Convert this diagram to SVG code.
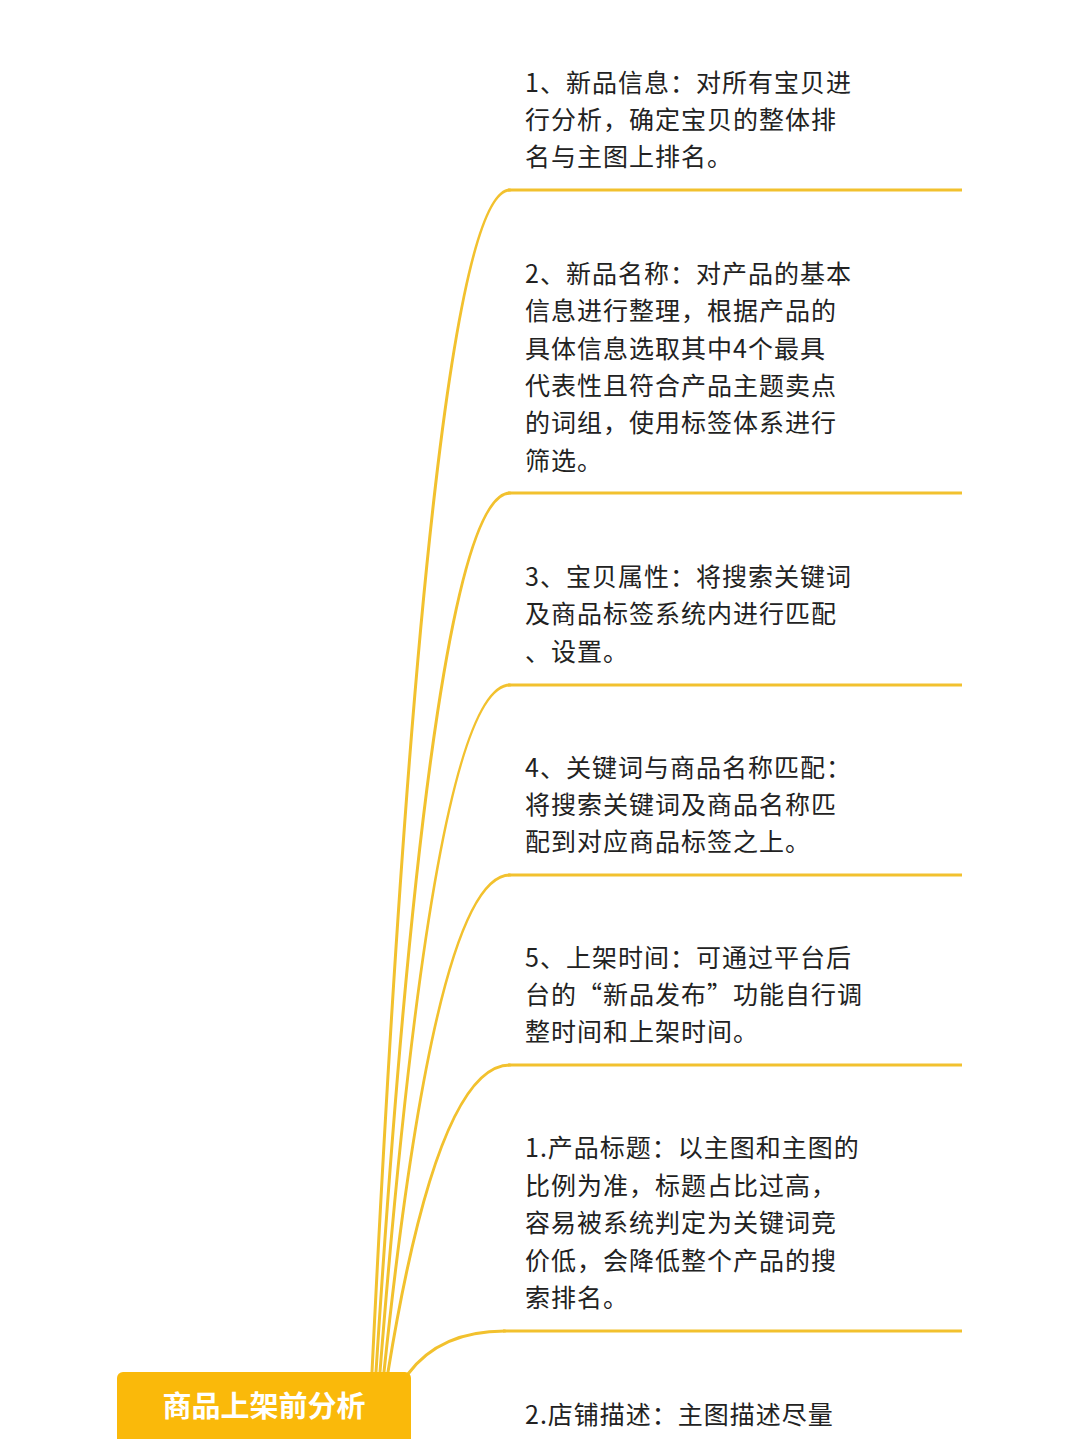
<svg xmlns="http://www.w3.org/2000/svg" width="1080" height="1439" viewBox="0 0 1080 1439">
<style>
.bg{fill:#ffffff}
.t{font-family:"Noto Sans CJK SC","Noto Sans",sans-serif;font-size:25px;fill:#222222;letter-spacing:1px}
.u{stroke:#F2C12E;stroke-width:3;fill:none}
.c{stroke:#F2C12E;stroke-width:3;fill:none;stroke-linecap:round}
.root{fill:#FAB90A}
.rt{font-family:"Noto Sans CJK SC","Noto Sans",sans-serif;font-size:29px;fill:#ffffff;font-weight:bold}
</style>
<rect class="bg" x="0" y="0" width="1080" height="1439"/>
<g id="connectors">
<path class="c" d="M372 1372 Q430 190 510 190"/>
<path class="c" d="M376 1372 Q432 493 510 493"/>
<path class="c" d="M380 1372 Q434 685 510 685"/>
<path class="c" d="M384 1372 Q436 875 510 875"/>
<path class="c" d="M388 1372 Q438 1065 510 1065"/>
<path class="c" d="M408 1374 Q440 1331 505 1331"/>
</g>
<g id="root">
<rect class="root" x="117" y="1372" width="294" height="80" rx="6"/>
<text class="rt" x="264" y="1417" text-anchor="middle">商品上架前分析</text>
</g>
<g id="node1">
<line class="u" x1="508" y1="190" x2="962" y2="190"/>
<text class="t" x="525" y="92">1、新品信息：对所有宝贝进</text>
<text class="t" x="525" y="129">行分析，确定宝贝的整体排</text>
<text class="t" x="525" y="166">名与主图上排名。</text>
</g>
<g id="node2">
<line class="u" x1="508" y1="493" x2="962" y2="493"/>
<text class="t" x="525" y="283">2、新品名称：对产品的基本</text>
<text class="t" x="525" y="320">信息进行整理，根据产品的</text>
<text class="t" x="525" y="358">具体信息选取其中4个最具</text>
<text class="t" x="525" y="395">代表性且符合产品主题卖点</text>
<text class="t" x="525" y="432">的词组，使用标签体系进行</text>
<text class="t" x="525" y="470">筛选。</text>
</g>
<g id="node3">
<line class="u" x1="508" y1="685" x2="962" y2="685"/>
<text class="t" x="525" y="586">3、宝贝属性：将搜索关键词</text>
<text class="t" x="525" y="623">及商品标签系统内进行匹配</text>
<text class="t" x="525" y="661">、设置。</text>
</g>
<g id="node4">
<line class="u" x1="508" y1="875" x2="962" y2="875"/>
<text class="t" x="525" y="777">4、关键词与商品名称匹配：</text>
<text class="t" x="525" y="814">将搜索关键词及商品名称匹</text>
<text class="t" x="525" y="851">配到对应商品标签之上。</text>
</g>
<g id="node5">
<line class="u" x1="508" y1="1065" x2="962" y2="1065"/>
<text class="t" x="525" y="967">5、上架时间：可通过平台后</text>
<text class="t" x="525" y="1004">台的“新品发布”功能自行调</text>
<text class="t" x="525" y="1041">整时间和上架时间。</text>
</g>
<g id="node6">
<line class="u" x1="503" y1="1331" x2="962" y2="1331"/>
<text class="t" x="525" y="1157">1.产品标题：以主图和主图的</text>
<text class="t" x="525" y="1195">比例为准，标题占比过高，</text>
<text class="t" x="525" y="1232">容易被系统判定为关键词竞</text>
<text class="t" x="525" y="1270">价低，会降低整个产品的搜</text>
<text class="t" x="525" y="1307">索排名。</text>
</g>
<g id="node7">
<text class="t" x="525" y="1424">2.店铺描述：主图描述尽量</text>
</g>
</svg>
